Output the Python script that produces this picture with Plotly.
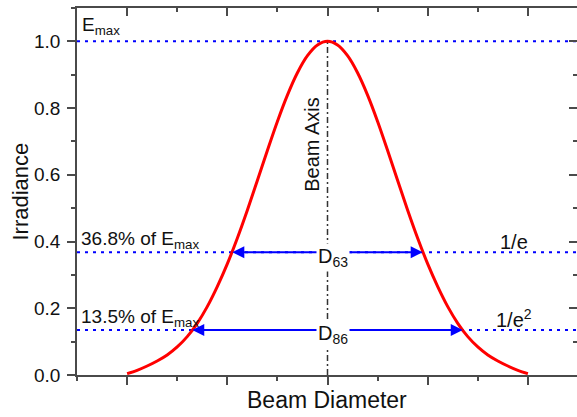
import plotly.graph_objects as go

# ---- data ----
beam_pos = [-2.0, -1.9, -1.8, -1.7, -1.6, -1.5, -1.4, -1.3, -1.2, -1.1, -1.0,
            -0.9, -0.8, -0.7, -0.6, -0.5, -0.4, -0.3, -0.2, -0.1, 0.0,
            0.1, 0.2, 0.3, 0.4, 0.5, 0.6, 0.7, 0.8, 0.9, 1.0,
            1.1, 1.2, 1.3, 1.4, 1.5, 1.6, 1.7, 1.8, 1.9, 2.0]
irradiance = [0.004, 0.014, 0.027, 0.042, 0.060, 0.084, 0.115, 0.155, 0.205, 0.265, 0.333,
              0.410, 0.494, 0.583, 0.673, 0.760, 0.839, 0.906, 0.957, 0.989, 1.000,
              0.989, 0.957, 0.906, 0.839, 0.760, 0.673, 0.583, 0.494, 0.410, 0.333,
              0.265, 0.205, 0.155, 0.115, 0.084, 0.060, 0.042, 0.027, 0.014, 0.004]
levels = [1.0, 0.368, 0.135]             # Emax, 1/e, 1/e^2
half_widths = [0.95, 1.35]               # crossing positions for 1/e and 1/e^2
diam_labels = ["D<sub>63</sub>", "D<sub>86</sub>"]
level_labels = ["36.8% of E<sub>max</sub>", "13.5% of E<sub>max</sub>"]
right_labels = ["1/e", "1/e<sup>2</sup>"]
y_ticks = [0.0, 0.2, 0.4, 0.6, 0.8, 1.0]
y_ticktext = ["0.0", "0.2", "0.4", "0.6", "0.8", "1.0"]
x_range = [-2.5, 2.49]
y_range = [0.0, 1.1]

FONT = "Liberation Sans, Arial, sans-serif"
BLUE = "#0000ff"
AX = "#4a4a4a"
TXT = "#111111"

fig = go.Figure()

# dotted reference levels
for lv in levels:
    fig.add_trace(go.Scatter(x=x_range, y=[lv, lv], mode="lines",
                             line=dict(color=BLUE, width=2, dash="3px,5px"),
                             hoverinfo="skip", showlegend=False, cliponaxis=False))

# beam axis
fig.add_trace(go.Scatter(x=[0, 0], y=[0, levels[0]], mode="lines",
                         line=dict(color="#333333", width=1.5, dash="6px,3px,2px,3px"),
                         hoverinfo="skip", showlegend=False))

# gaussian profile
fig.add_trace(go.Scatter(x=beam_pos, y=irradiance, mode="lines",
                         line=dict(color="#ff0000", width=3, shape="spline"),
                         showlegend=False))

ann = []
# arrows
for lv, hw in zip(levels[1:], half_widths):
    for s in (-1, 1):
        ann.append(dict(x=s * hw, y=lv, ax=0, ay=lv, xref="x", yref="y",
                        axref="x", ayref="y", text="", showarrow=True,
                        arrowhead=2, arrowsize=1.2, arrowwidth=2, arrowcolor=BLUE))
# diameter labels
for lv, lab in zip(levels[1:], diam_labels):
    ann.append(dict(x=0.05, y=lv, xref="x", yref="y", text=lab, showarrow=False,
                    bgcolor="white", font=dict(family=FONT, size=20, color=TXT),
                    xanchor="center", yanchor="middle", yshift=-5))
# level labels left
for lv, lab in zip(levels[1:], level_labels):
    ann.append(dict(x=-2.48, y=lv, xref="x", yref="y", text=lab, showarrow=False,
                    font=dict(family=FONT, size=19, color=TXT),
                    xanchor="left", yanchor="bottom", yshift=-2))
# right labels
for lv, lab in zip(levels[1:], right_labels):
    ann.append(dict(x=1.86, y=lv, xref="x", yref="y", text=lab, showarrow=False,
                    font=dict(family=FONT, size=20, color=TXT),
                    xanchor="center", yanchor="bottom", yshift=-3))
# Emax
ann.append(dict(x=-2.47, y=levels[0], xref="x", yref="y", text="E<sub>max</sub>",
                showarrow=False, font=dict(family=FONT, size=19, color=TXT),
                xanchor="left", yanchor="bottom", yshift=1))
# Beam axis label
ann.append(dict(x=-0.155, y=0.69, xref="x", yref="y", text="Beam Axis", textangle=-90,
                showarrow=False, font=dict(family=FONT, size=20, color=TXT),
                xanchor="center", yanchor="middle"))
# axis titles
ann.append(dict(x=0.5, y=-0.068, xref="paper", yref="paper", text="Beam Diameter",
                showarrow=False, font=dict(family=FONT, size=23, color=TXT),
                xanchor="center", yanchor="middle"))
ann.append(dict(x=-0.114, y=0.5, xref="paper", yref="paper", text="Irradiance",
                textangle=-90, showarrow=False, font=dict(family=FONT, size=22, color=TXT),
                xanchor="center", yanchor="middle"))

common = dict(showgrid=False, zeroline=False, automargin=False, tickwidth=1.5, tickcolor=AX)

fig.update_layout(
    width=577, height=417, autosize=False,
    margin=dict(l=77, r=0, t=8, b=42, pad=0, autoexpand=False),
    paper_bgcolor="white", plot_bgcolor="white",
    font=dict(family=FONT, size=19, color=TXT),
    annotations=ann,
    xaxis=dict(range=x_range, showline=True, linecolor=AX, linewidth=1.8,
               ticks="outside", ticklen=8, tick0=0, dtick=1, showticklabels=False,
               minor=dict(ticks="outside", ticklen=4, tickwidth=1.5, tickcolor=AX, dtick=0.5),
               **common),
    yaxis=dict(range=y_range, showline=True, linecolor=AX, linewidth=1.8,
               ticks="outside", ticklen=8, tickvals=y_ticks, ticktext=y_ticktext,
               tickfont=dict(family=FONT, size=19, color=TXT), ticklabelstandoff=3,
               minor=dict(ticks="outside", ticklen=4, tickwidth=1.5, tickcolor=AX, dtick=0.1),
               **common),
    xaxis2=dict(range=x_range, overlaying="x", side="top", showline=True, linecolor=AX,
                linewidth=1.8, ticks="inside", ticklen=8, tick0=0, dtick=1,
                showticklabels=False,
                minor=dict(ticks="inside", ticklen=4, tickwidth=1.5, tickcolor=AX, dtick=0.5),
                **common),
    yaxis2=dict(range=y_range, overlaying="y", side="right", showline=False,
                ticks="inside", ticklen=8, tickvals=y_ticks, showticklabels=False,
                minor=dict(ticks="inside", ticklen=4, tickwidth=1.5, tickcolor=AX, dtick=0.1),
                **common),
)
# invisible trace to anchor the mirror axes
fig.add_trace(go.Scatter(x=[0], y=[0], xaxis="x2", yaxis="y2", mode="markers",
                         marker=dict(opacity=0), hoverinfo="skip", showlegend=False))

fig.write_html("out.html", config={"displayModeBar": False},
               post_script="document.body.style.margin='0';document.body.style.overflow='hidden';")
